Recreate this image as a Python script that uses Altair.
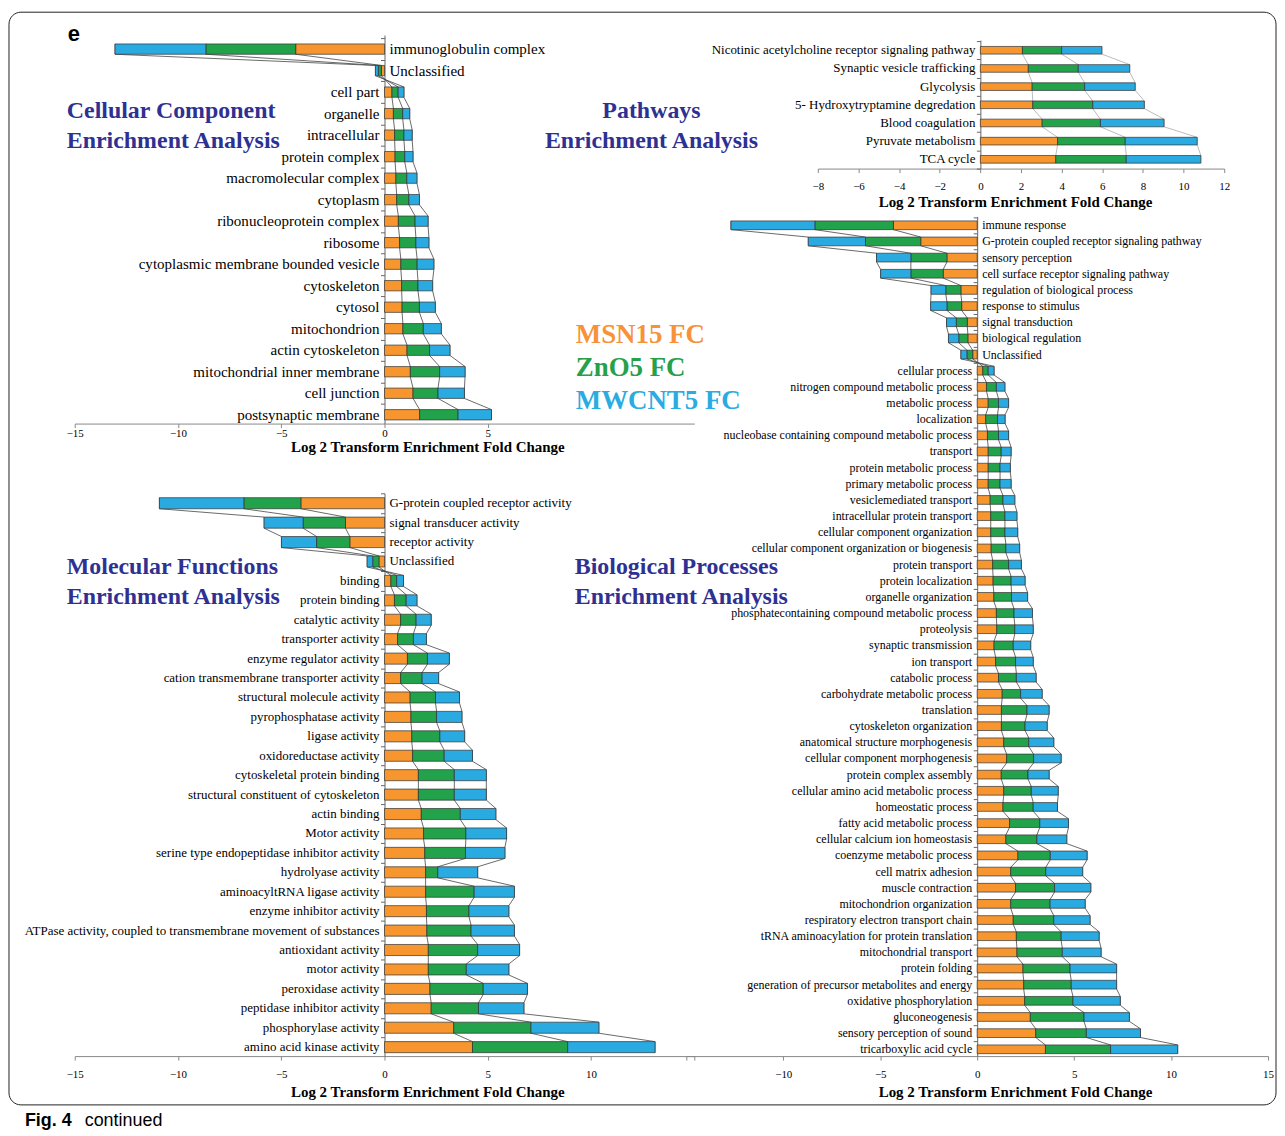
import altair as alt
import pandas as pd

SERIF = "Liberation Serif"
SANS = "Liberation Sans"
ORANGE = "#F7962F"
GREEN = "#22A34B"
BLUE = "#29ABE2"
TITLE_BLUE = "#2E3192"
SERIES = ["MSN15 FC", "ZnO5 FC", "MWCNT5 FC"]
XTITLE = "Log 2 Transform Enrichment Fold Change"

W, H = 1272, 1125  # single plot area covering the figure

# ---------------- Cellular Component ----------------
CC_CATS = ["immunoglobulin complex", "Unclassified", "cell part", "organelle", "intracellular",
           "protein complex", "macromolecular complex", "cytoplasm", "ribonucleoprotein complex",
           "ribosome", "cytoplasmic membrane bounded vesicle", "cytoskeleton", "cytosol",
           "mitochondrion", "actin cytoskeleton", "mitochondrial inner membrane", "cell junction",
           "postsynaptic membrane"]
CC_MSN = [-4.30, -0.15, 0.36, 0.43, 0.49, 0.51, 0.55, 0.59, 0.67, 0.73, 0.79, 0.83, 0.85, 0.89, 1.09, 1.25, 1.38, 1.70]
CC_ZNO = [-4.35, -0.15, 0.30, 0.45, 0.45, 0.47, 0.53, 0.59, 0.81, 0.79, 0.79, 0.79, 0.84, 0.99, 1.09, 1.42, 1.21, 1.86]
CC_MW = [-4.40, -0.14, 0.28, 0.34, 0.40, 0.40, 0.49, 0.51, 0.63, 0.63, 0.81, 0.71, 0.77, 0.87, 0.99, 1.23, 1.28, 1.62]
CC_TICKS = [-15, -10, -5, 0, 5]

# ---------------- Pathways ----------------
PW_CATS = ["Nicotinic acetylcholine receptor signaling  pathway", "Synaptic vesicle trafficking",
           "Glycolysis", "5- Hydroxytryptamine degredation", "Blood coagulation",
           "Pyruvate metabolism", "TCA cycle"]
PW_MSN = [2.07, 2.36, 2.55, 2.58, 3.04, 3.80, 3.71]
PW_ZNO = [1.93, 2.46, 2.58, 2.95, 2.87, 3.33, 3.47]
PW_MW = [1.98, 2.53, 2.49, 2.54, 3.13, 3.54, 3.67]
PW_TICKS = [-8, -6, -4, -2, 0, 2, 4, 6, 8, 10, 12]

# ---------------- Biological Processes ----------------
BP_CATS = ["immune response", "G-protein coupled receptor signaling pathway", "sensory perception",
           "cell surface receptor signaling pathway", "regulation of biological process",
           "response to stimulus", "signal transduction", "biological regulation", "Unclassified",
           "cellular process", "nitrogen compound metabolic process", "metabolic process",
           "localization", "nucleobase containing compound metabolic process", "transport",
           "protein metabolic process", "primary metabolic process", "vesiclemediated transport",
           "intracellular protein transport", "cellular component organization",
           "cellular component organization or biogenesis", "protein transport",
           "protein localization", "organelle organization",
           "phosphatecontaining compound metabolic process", "proteolysis",
           "synaptic transmission", "ion transport", "catabolic process",
           "carbohydrate metabolic process", "translation", "cytoskeleton organization",
           "anatomical structure morphogenesis", "cellular component morphogenesis",
           "protein complex assembly", "cellular amino acid metabolic process",
           "homeostatic process", "fatty acid metabolic process",
           "cellular calcium ion homeostasis", "coenzyme metabolic process",
           "cell matrix adhesion", "muscle contraction", "mitochondrion organization",
           "respiratory electron transport chain", "tRNA aminoacylation for protein translation",
           "mitochondrial transport", "protein folding",
           "generation of precursor metabolites and energy", "oxidative phosphorylation",
           "gluconeogenesis", "sensory perception of sound", "tricarboxylic acid cycle"]
BP_MSN = [-4.32, -2.91, -1.56, -1.75, -0.84, -0.80, -0.51, -0.48, -0.23,
          0.29, 0.48, 0.57, 0.44, 0.53, 0.57, 0.57, 0.57, 0.67, 0.70, 0.70, 0.72, 0.80, 0.82, 0.86, 0.99,
          1.01, 0.87, 0.95, 1.10, 1.29, 1.25, 1.25, 1.37, 1.52, 1.24, 1.37, 1.33, 1.67, 1.48, 2.10,
          1.73, 1.98, 1.73, 1.86, 2.02, 2.05, 2.36, 2.40, 2.45, 2.74, 3.02, 3.52]
BP_ZNO = [-4.05, -2.85, -1.86, -1.67, -0.78, -0.76, -0.57, -0.47, -0.30,
          0.28, 0.51, 0.53, 0.61, 0.57, 0.67, 0.61, 0.61, 0.66, 0.73, 0.73, 0.76, 0.82, 0.93, 0.91, 0.91,
          0.93, 0.99, 1.03, 0.92, 0.95, 1.32, 1.22, 1.29, 1.39, 1.38, 1.42, 1.56, 1.56, 1.60, 1.67,
          1.81, 2.01, 2.03, 2.09, 2.31, 2.34, 2.43, 2.45, 2.49, 2.77, 2.61, 3.36]
BP_MW = [-4.33, -2.95, -1.77, -1.56, -0.76, -0.84, -0.50, -0.53, -0.31,
         0.30, 0.44, 0.52, 0.39, 0.52, 0.51, 0.53, 0.57, 0.61, 0.62, 0.66, 0.71, 0.66, 0.72, 0.83, 0.95,
         0.95, 0.90, 0.91, 1.02, 1.11, 1.14, 1.14, 1.29, 1.42, 1.09, 1.39, 1.25, 1.48, 1.54, 1.90,
         1.90, 1.87, 1.81, 1.87, 1.96, 2.00, 2.40, 2.34, 2.44, 2.34, 2.79, 3.46]
BP_TICKS = [-15, -10, -5, 0, 5, 10, 15]

# ---------------- Molecular Functions ----------------
MF_CATS = ["G-protein coupled  receptor activity", "signal transducer activity", "receptor activity",
           "Unclassified", "binding", "protein binding", "catalytic activity", "transporter activity",
           "enzyme regulator activity", "cation transmembrane  transporter activity",
           "structural molecule  activity", "pyrophosphatase activity", "ligase activity",
           "oxidoreductase activity", "cytoskeletal protein  binding",
           "structural constituent of cytoskeleton", "actin binding", "Motor activity",
           "serine type endopeptidase inhibitor activity", "hydrolyase activity",
           "aminoacyltRNA ligase  activity", "enzyme inhibitor activity",
           "ATPase activity, coupled to transmembrane  movement of substances",
           "antioxidant activity", "motor activity", "peroxidase activity",
           "peptidase inhibitor activity", "phosphorylase activity", "amino acid kinase activity"]
MF_MSN = [-4.05, -1.89, -1.68, -0.27, 0.31, 0.48, 0.78, 0.63, 1.11, 0.78, 1.24, 1.28, 1.32, 1.36, 1.64,
          1.64, 1.78, 1.89, 1.95, 1.99, 1.99, 2.03, 2.05, 2.12, 2.12, 2.20, 2.26, 3.35, 4.26]
MF_ZNO = [-2.76, -2.05, -1.61, -0.30, 0.28, 0.57, 0.75, 0.77, 0.97, 1.04, 1.23, 1.24, 1.36, 1.53, 1.74,
          1.74, 1.89, 2.05, 1.97, 0.59, 2.35, 2.06, 2.14, 2.39, 1.84, 2.58, 2.29, 3.74, 4.61]
MF_MW = [-4.09, -1.89, -1.70, -0.27, 0.33, 0.52, 0.73, 0.63, 1.06, 0.80, 1.16, 1.23, 1.20, 1.37, 1.55,
         1.55, 1.72, 1.97, 1.91, 1.93, 1.95, 1.93, 2.10, 2.03, 2.06, 2.14, 2.20, 3.29, 4.23]
MF_TICKS = [-15, -10, -5, 0, 5, 10, 15]


def panel(cats, msn, zno, mw, xdom, xrange, ydom, yrange, bar_h, lab_size, xticks,
          hide_ticklabels, title_x, title_y, label_pad, line_color):
    """Returns a flat list of unit charts; each unit carries the same explicit scale."""
    rows, lines, labels = [], [], []
    for i, c in enumerate(cats):
        vals = [msn[i], zno[i], mw[i]]
        start = 0.0
        for k, s in enumerate(SERIES):
            end = start + vals[k]
            rows.append(dict(cat=c, series=s, x0=start, x1=end, y0=i - bar_h / 2, y1=i + bar_h / 2))
            lines.append(dict(series=s, x=end, y=i - bar_h / 2, ord=2 * i))
            lines.append(dict(series=s, x=end, y=i + bar_h / 2, ord=2 * i + 1))
            start = end
        labels.append(dict(cat=c, idx=i, zero=0.0, side="neg" if start < 0 else "pos"))
    rows, lines, labels = pd.DataFrame(rows), pd.DataFrame(lines), pd.DataFrame(labels)

    ppu = (xrange[1] - xrange[0]) / (xdom[1] - xdom[0])
    zero_px = xrange[0] + (0 - xdom[0]) * ppu

    def xs():
        return alt.Scale(domain=xdom, range=xrange, nice=False, zero=False)

    def ys():
        return alt.Scale(domain=ydom, range=yrange, nice=False, zero=False)

    hidden = " || ".join(f"datum.value == {v}" for v in hide_ticklabels) or "false"
    xaxis = alt.Axis(values=xticks, orient="bottom", offset=yrange[1] - H,
                     title=XTITLE, titleFont=SERIF, titleFontSize=15,
                     titleFontWeight="bold", titleColor="black", titleX=title_x, titleY=title_y,
                     titleAlign="center", titleBaseline="alphabetic",
                     labelFont=SERIF, labelFontSize=11, labelColor="black", labelPadding=label_pad,
                     labelExpr=f"({hidden}) ? '' : datum.label",
                     tickSize=4, tickColor="#888", domainColor="#888", grid=False, labelFlush=False)
    yaxis = alt.Axis(values=[i - 0.5 for i in range(len(cats) + 1)], orient="left", labels=False,
                     title=None, tickSize=4, tickColor="#666", domainColor="#666", grid=False,
                     offset=-zero_px)

    line_layer = alt.Chart(lines).mark_line(color=line_color, strokeWidth=0.8).encode(
        x=alt.X("x:Q", scale=xs(), axis=xaxis),
        y=alt.Y("y:Q", scale=ys(), axis=yaxis),
        detail="series:N",
        order="ord:Q",
    )
    bars = alt.Chart(rows).mark_rect(stroke="#333", strokeWidth=0.7).encode(
        x=alt.X("x0:Q", scale=xs(), axis=None),
        x2="x1:Q",
        y=alt.Y("y0:Q", scale=ys(), axis=None),
        y2="y1:Q",
        color=alt.Color("series:N", scale=alt.Scale(domain=SERIES, range=[ORANGE, GREEN, BLUE]),
                        legend=None),
    )
    lab_pos = alt.Chart(labels).transform_filter(alt.datum.side == "pos").mark_text(
        align="right", baseline="middle", dx=-5, font=SERIF, fontSize=lab_size, color="black"
    ).encode(x=alt.X("zero:Q", scale=xs(), axis=None), y=alt.Y("idx:Q", scale=ys(), axis=None), text="cat:N")
    lab_neg = alt.Chart(labels).transform_filter(alt.datum.side == "neg").mark_text(
        align="left", baseline="middle", dx=5, font=SERIF, fontSize=lab_size, color="black"
    ).encode(x=alt.X("zero:Q", scale=xs(), axis=None), y=alt.Y("idx:Q", scale=ys(), axis=None), text="cat:N")
    return [line_layer, bars, lab_pos, lab_neg]


def note(text, x, y, size, color, weight="bold", font=SERIF, align="left", line_height=30):
    return alt.Chart(pd.DataFrame({"t": [text]})).mark_text(
        align=align, baseline="alphabetic", font=font, fontSize=size, fontWeight=weight,
        color=color, lineBreak="\n", lineHeight=line_height
    ).encode(text="t:N", x=alt.value(x), y=alt.value(y))


one = pd.DataFrame({"a": [0]})

cc = panel(CC_CATS, CC_MSN, CC_ZNO, CC_MW, [-15, 15], [67, 689], [-0.65, 17.41], [25, 415],
           0.48, 15.1, CC_TICKS, [], 421, 28, 0, "#444")
pw = panel(PW_CATS, PW_MSN, PW_ZNO, PW_MW, [-8, 12], [813, 1221], [-0.56, 6.51], [30, 159],
           0.42, 13, PW_TICKS, [], 1011, 38, 8, "#aaa")
bp = panel(BP_CATS, BP_MSN, BP_ZNO, BP_MW, [-15, 15], [681, 1265], [-0.55, 51.42], [207, 1050],
           0.54, 12, BP_TICKS, [-15], 1011, 41, 9, "#444")
mf = panel(MF_CATS, MF_MSN, MF_ZNO, MF_MW, [-15, 15], [67, 689], [-0.51, 28.46], [485, 1050],
           0.57, 13, MF_TICKS, [15], 421, 41, 9, "#444")

frame = alt.Chart(one).mark_rect(fillOpacity=0, stroke="#222", strokeWidth=1, cornerRadius=12).encode(
    x=alt.value(1), x2=alt.value(1273), y=alt.value(2), y2=alt.value(1099))
notes = [
    note("e", 60, 31, 22, "black", font=SANS),
    note("Cellular Component\nEnrichment Analysis", 59, 108, 24, TITLE_BLUE),
    note("Pathways\nEnrichment Analysis", 646, 108, 24, TITLE_BLUE, align="center"),
    note("MSN15 FC", 570, 334, 27, "#F7923A"),
    note("ZnO5 FC", 570, 367, 27, "#26A04B"),
    note("MWCNT5 FC", 570, 400, 27, "#2AACE2"),
    note("Molecular Functions\nEnrichment Analysis", 59, 566, 24, TITLE_BLUE),
    note("Biological Processes\nEnrichment Analysis", 569, 566, 24, TITLE_BLUE),
    note("Fig. 4", 17, 1120, 18, "black", font=SANS),
    note("continued", 77, 1120, 18, "black", weight="normal", font=SANS),
]

chart = alt.layer(*cc, *pw, *bp, *mf, frame, *notes).resolve_scale(
    x="independent", y="independent"
).resolve_axis(
    x="independent", y="independent"
).properties(width=W, height=H, padding=0).configure_view(stroke=None)

chart.save("out.html", embed_options={"renderer": "svg", "actions": False})
